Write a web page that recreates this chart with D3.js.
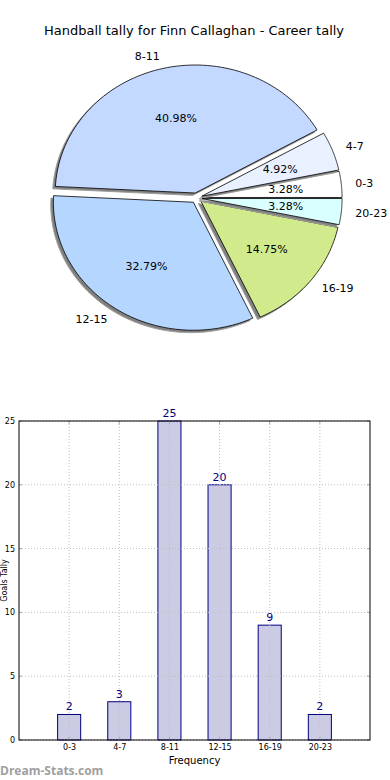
<!DOCTYPE html>
<html><head><meta charset="utf-8">
<script src="https://cdn.jsdelivr.net/npm/d3@7"></script>
<style>body{margin:0;background:#fff}svg{display:block;font-family:"DejaVu Sans",sans-serif}</style>
</head><body><svg id="c" width="390" height="780"></svg>
<script>
const categories = ["0-3","4-7","8-11","12-15","16-19","20-23"];
const tallies = [2,3,25,20,9,2];
const sliceColors = ["#ffffff","#e9f0ff","#c4d9ff","#b5d6ff","#d0ea8c","#d9ffff"];
const yTicks = [0,5,10,15,20,25];
const titleText = "Handball tally for Finn Callaghan - Career tally";

const svg = d3.select("#c");
svg.append("text").attr("x",194).attr("y",35).attr("text-anchor","middle")
  .attr("font-size",13).attr("fill","#000").text(titleText);

// ---- Pie ----
const cx=196.5, cy=198, rx=140, ry=128, explode=0.04;
const total = d3.sum(tallies);
const pie = d3.pie().sort(null).value(d=>d)
  .startAngle(0).endAngle(2*Math.PI);
const arcs = pie(tallies);
function pt(theta, r){ return [rx*r*Math.cos(theta), -ry*r*Math.sin(theta)]; }
function wedgePath(a0,a1){
  const p = d3.path(); p.moveTo(0,0);
  const n=80;
  for(let i=0;i<=n;i++){const t=a0+(a1-a0)*i/n; const q=pt(t,1); p.lineTo(q[0],q[1]);}
  p.closePath(); return p.toString();
}
const pieG = svg.append("g");
arcs.forEach((a,i)=>{
  const a0=a.startAngle, a1=a.endAngle, mid=(a0+a1)/2;
  const off = pt(mid, explode);
  const ox=cx+off[0], oy=cy+off[1];
  pieG.append("path").attr("d",wedgePath(a0,a1))
    .attr("transform",`translate(${ox-2.6},${oy+2.4})`)
    .attr("fill","#808080").attr("stroke","#a0a0a0").attr("stroke-width",1);
  pieG.append("path").attr("d",wedgePath(a0,a1))
    .attr("transform",`translate(${ox},${oy})`)
    .attr("fill",sliceColors[i]).attr("stroke","#000").attr("stroke-width",0.8);
});
arcs.forEach((a,i)=>{
  const mid=(a.startAngle+a.endAngle)/2;
  const off = pt(mid, explode);
  const l = pt(mid,1.1), p = pt(mid,0.6);
  svg.append("text").attr("x",cx+off[0]+l[0]).attr("y",cy+off[1]+l[1]).attr("dy","0.35em")
    .attr("text-anchor", l[0]>=0?"start":"end").attr("font-size",11).text(categories[i]);
  svg.append("text").attr("x",cx+off[0]+p[0]).attr("y",cy+off[1]+p[1]).attr("dy","0.35em")
    .attr("text-anchor","middle").attr("font-size",11)
    .text((100*a.value/total).toFixed(2)+"%");
});

// ---- Bar chart ----
const L=19, R=370, T=421, B=740;
const x = d3.scaleLinear().domain([-1,6]).range([L,R]);
const y = d3.scaleLinear().domain([0,25]).range([B,T]);
const barW = 0.46;
const g = svg.append("g");
g.selectAll("rect.bar").data(tallies).join("rect").attr("class","bar")
  .attr("x",(d,i)=>x(i-barW/2)).attr("width",x(barW)-x(0))
  .attr("y",d=>y(d)).attr("height",d=>B-y(d))
  .attr("fill","#cbcbe3").attr("stroke","#000080").attr("stroke-width",1);
const grid = g.append("g").attr("stroke","#c0c0c0").attr("stroke-width",1).attr("stroke-dasharray","1,2");
categories.forEach((c,i)=>grid.append("line").attr("x1",x(i)).attr("x2",x(i)).attr("y1",T).attr("y2",B));
yTicks.forEach(t=>grid.append("line").attr("x1",L).attr("x2",R).attr("y1",y(t)).attr("y2",y(t)));
const tm = g.append("g").attr("stroke","#aaa").attr("stroke-width",1);
categories.forEach((c,i)=>{tm.append("line").attr("x1",x(i)).attr("x2",x(i)).attr("y1",B).attr("y2",B-3);
  tm.append("line").attr("x1",x(i)).attr("x2",x(i)).attr("y1",T).attr("y2",T+3);});
yTicks.forEach(t=>{tm.append("line").attr("x1",L).attr("x2",L+3).attr("y1",y(t)).attr("y2",y(t));
  tm.append("line").attr("x1",R).attr("x2",R-3).attr("y1",y(t)).attr("y2",y(t));});
g.append("rect").attr("x",L).attr("y",T).attr("width",R-L).attr("height",B-T)
  .attr("fill","none").attr("stroke","#000").attr("stroke-width",1);
const xAxis = d3.axisBottom(x).tickValues(d3.range(categories.length)).tickFormat(i=>categories[i]).tickSize(0).tickPadding(4);
const xa = g.append("g").attr("transform",`translate(0,${B})`).call(xAxis);
xa.select(".domain").remove();
xa.selectAll("text").attr("font-size",8).attr("fill","#000").attr("font-family","DejaVu Sans");
const yAxis = d3.axisLeft(y).tickValues(yTicks).tickSize(0).tickPadding(4);
const ya = g.append("g").attr("transform",`translate(${L},0)`).call(yAxis);
ya.select(".domain").remove();
ya.selectAll("text").attr("font-size",8).attr("fill","#000").attr("font-family","DejaVu Sans");
g.selectAll("text.val").data(tallies).join("text").attr("class","val")
  .attr("x",(d,i)=>x(i)).attr("y",d=>y(d)-4).attr("text-anchor","middle")
  .attr("font-size",11).attr("fill","#000080").text(d=>d);
svg.append("text").attr("x",194.5).attr("y",764).attr("text-anchor","middle").attr("font-size",10).text("Frequency");
svg.append("text").attr("transform",`translate(7,${(T+B)/2}) rotate(-90)`).attr("text-anchor","middle")
  .attr("font-size",8).text("Goals Tally");
svg.append("text").attr("x",0).attr("y",775).attr("font-size",12).attr("font-weight","bold")
  .attr("fill","#a0a0a0").attr("font-family","Open Sans, sans-serif").text("Dream-Stats.com");
</script></body></html>
